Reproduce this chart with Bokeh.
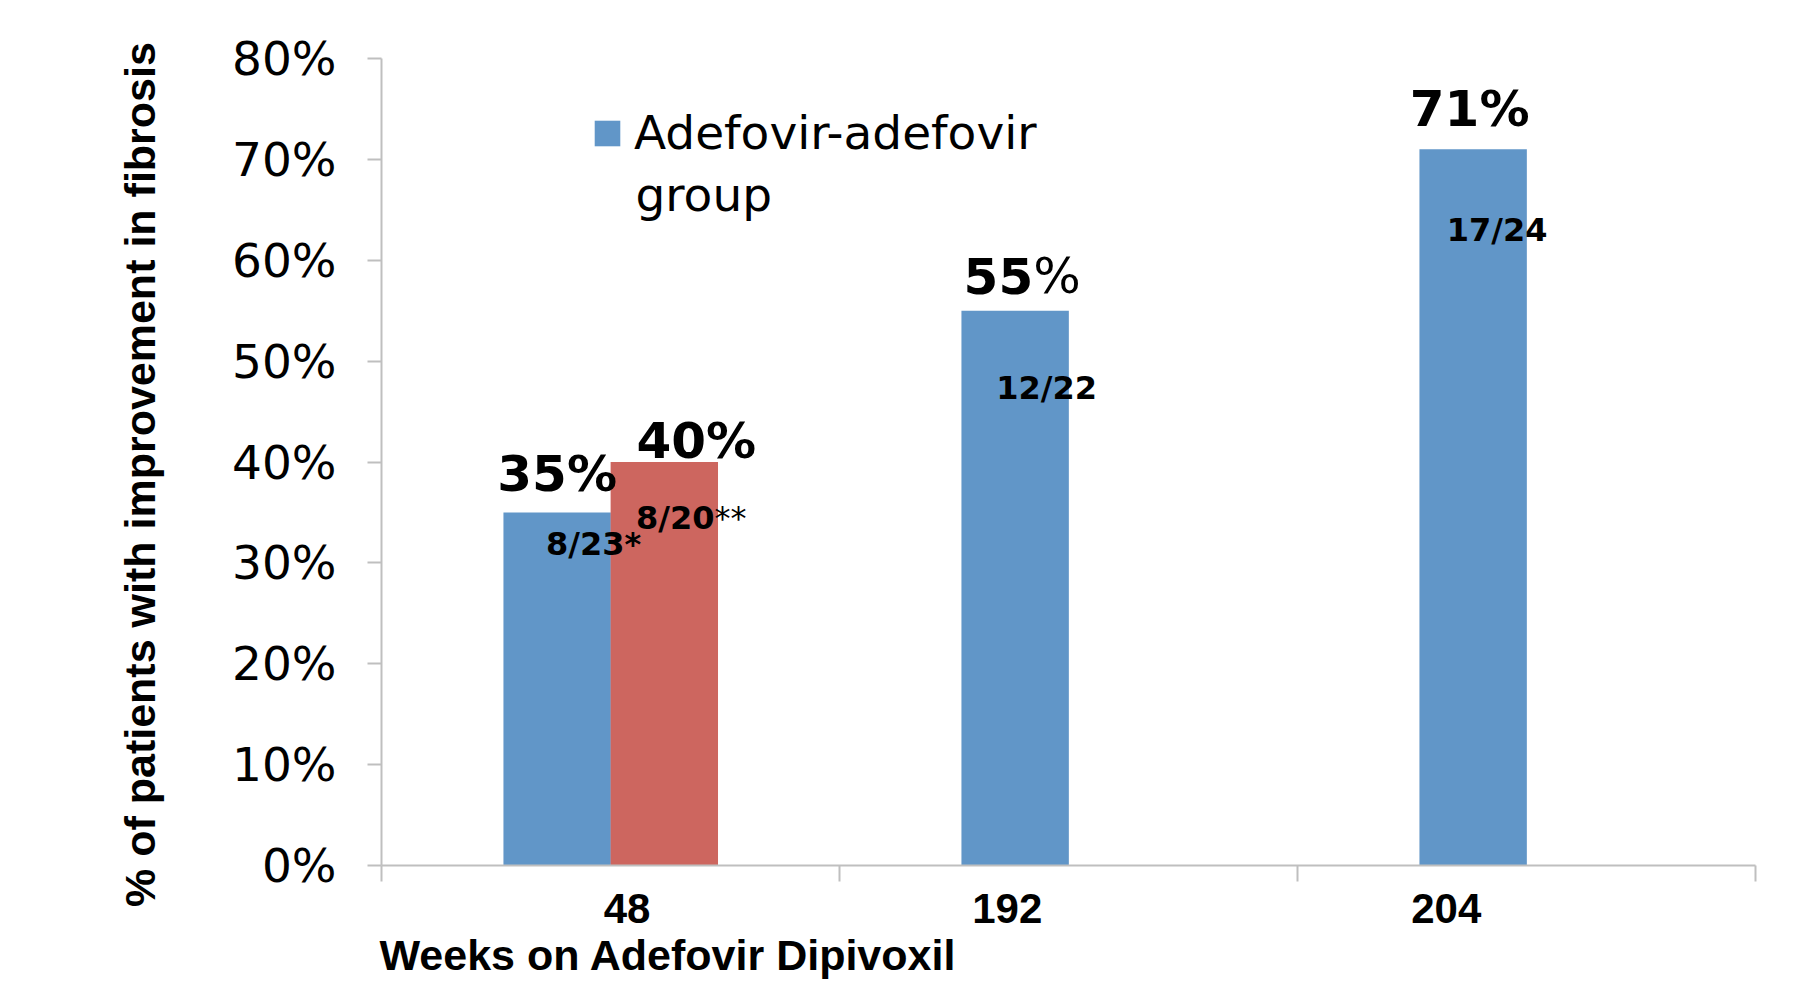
import numpy as np
from bokeh.plotting import figure
from bokeh.models import (ColumnDataSource, Range1d, FixedTicker, NumeralTickFormatter,
                          Label, Legend, LegendItem, Title)
from bokeh.core.properties import value
from bokeh.embed import file_html
from bokeh.resources import INLINE

# ---------------- data ----------------
categories = ["48", "192", "204"]                 # weeks on adefovir dipivoxil
adefovir_group = [0.35, 0.55, 0.71]               # Adefovir-adefovir group
adefovir_fractions = ["8/23*", "12/22", "17/24"]
second_group = [0.40]                             # second series, week 48 only
second_fractions = ["8/20**"]
y_ticks = [0.0, 0.1, 0.2, 0.3, 0.4, 0.5, 0.6, 0.7, 0.8]
legend_lines = ["Adefovir-adefovir", "group"]
x_title = "Weeks on Adefovir Dipivoxil"
y_title = "% of patients with  improvement in fibrosis"

# ---------------- layout / style constants ----------------
BLUE = "#6196C8"
RED = "#CD665F"
AXIS_GRAY = "#BFBFBF"
BAR_W = 0.2345
BLUE_DODGE = -0.1165
RED_DODGE = 0.1175
VAL_PX = 50
FRAC_PX = 32
TICK_FONT = "47px"
# pixel offsets of the hand-placed labels
blue_val_dx = [0, 7, -3.5]
blue_val_dy = [-38.5, -35, -40.5]
red_val_dx = [32]
red_val_dy = [-21.5]
blue_frac_dx = [36.5, 31.5, 24]
blue_frac_dy = [32, 77, 81]
red_frac_dx = [27]
red_frac_dy = [56]
# number of trailing characters that the original shows in regular weight
blue_val_regular = [0, 1, 0]
red_val_regular = [0]
blue_frac_regular = [0, 0, 0]
red_frac_regular = [2]
cat_label_dx = [0.0362, -0.1336, -0.1753]          # in category units

# approximate advance widths (em) of DejaVu Sans Bold / Book, used to join mixed-weight labels
BOLD_W = {**{d: 0.696 for d in "0123456789"}, "/": 0.365, "%": 1.002, "*": 0.523}
REG_W = {"%": 0.950, "*": 0.500}

idx = np.arange(len(categories))

p = figure(width=1810, height=986, output_backend="svg", toolbar_location=None,
           x_range=Range1d(0, len(categories)), y_range=Range1d(0, 0.8),
           min_border_left=381, min_border_right=55, min_border_top=58, min_border_bottom=120)
p.outline_line_color = None
p.grid.visible = False
p.background_fill_color = "white"
p.border_fill_color = "white"

blue_src = ColumnDataSource(dict(x=idx + 0.5 + BLUE_DODGE, top=adefovir_group))
red_src = ColumnDataSource(dict(x=idx[:len(second_group)] + 0.5 + RED_DODGE, top=second_group))
blue_r = p.vbar(x="x", top="top", bottom=0, width=BAR_W, source=blue_src,
                fill_color=BLUE, line_color=None)
red_r = p.vbar(x="x", top="top", bottom=0, width=BAR_W, source=red_src,
               fill_color=RED, line_color=None)


def add_labels(xs, tops, texts, dxs, dys, n_regular, px):
    """Bar labels; trailing n_regular characters are drawn in regular weight."""
    whole = dict(x=[], y=[], t=[], dx=[], dy=[])
    bold = dict(x=[], y=[], t=[], dx=[], dy=[])
    reg = dict(x=[], y=[], t=[], dx=[], dy=[])
    for x, y, t, dx, dy, n in zip(xs, tops, texts, dxs, dys, n_regular):
        if n == 0:
            for k, v in zip(("x", "y", "t", "dx", "dy"), (x, y, t, dx, dy)):
                whole[k].append(v)
            continue
        tb, tr = t[:-n], t[-n:]
        wb = sum(BOLD_W[c] for c in tb) * px
        wr = sum(REG_W[c] for c in tr) * px
        split = dx - (wb + wr) / 2 + wb
        for d, part in ((bold, tb), (reg, tr)):
            for k, v in zip(("x", "y", "t", "dx", "dy"), (x, y, part, split, dy)):
                d[k].append(v)
    common = dict(x="x", y="t" and "y", text="t", x_offset="dx", y_offset="dy",
                  text_font=value("DejaVu Sans"), text_font_size=f"{px}px",
                  text_baseline="alphabetic", text_color="black")
    if whole["x"]:
        p.text(source=ColumnDataSource(whole), text_font_style="bold", text_align="center", **common)
    if bold["x"]:
        p.text(source=ColumnDataSource(bold), text_font_style="bold", text_align="right", **common)
        p.text(source=ColumnDataSource(reg), text_font_style="normal", text_align="left", **common)


blue_x = list(idx + 0.5 + BLUE_DODGE)
red_x = list(idx[:len(second_group)] + 0.5 + RED_DODGE)
add_labels(blue_x, adefovir_group, [f"{round(v * 100)}%" for v in adefovir_group],
           blue_val_dx, blue_val_dy, blue_val_regular, VAL_PX)
add_labels(red_x, second_group, [f"{round(v * 100)}%" for v in second_group],
           red_val_dx, red_val_dy, red_val_regular, VAL_PX)
add_labels(blue_x, adefovir_group, adefovir_fractions,
           blue_frac_dx, blue_frac_dy, blue_frac_regular, FRAC_PX)
add_labels(red_x, second_group, second_fractions,
           red_frac_dx, red_frac_dy, red_frac_regular, FRAC_PX)

# y axis
ya = p.yaxis[0]
ya.ticker = FixedTicker(ticks=y_ticks)
ya.formatter = NumeralTickFormatter(format="0%")
ya.axis_line_color = AXIS_GRAY
ya.axis_line_width = 2
ya.major_tick_line_color = AXIS_GRAY
ya.major_tick_line_width = 2
ya.major_tick_out = 14
ya.major_tick_in = 0
ya.minor_tick_line_color = None
ya.major_label_standoff = 31
ya.major_label_text_font = "DejaVu Sans"
ya.major_label_text_font_size = TICK_FONT
ya.major_label_text_color = "black"

# x axis: visible (minor) ticks at the category boundaries,
# invisible major ticks carrying the hand-placed category labels
cat_pos = [round(float(i + 0.5 + d), 4) for i, d in zip(idx, cat_label_dx)]
xa = p.xaxis[0]
xa.ticker = FixedTicker(ticks=cat_pos, minor_ticks=list(range(len(categories) + 1)))
xa.major_label_overrides = {t: c for t, c in zip(cat_pos, categories)}
xa.axis_line_color = AXIS_GRAY
xa.axis_line_width = 2
xa.major_tick_line_color = None
xa.major_tick_out = 0
xa.major_tick_in = 0
xa.minor_tick_line_color = AXIS_GRAY
xa.minor_tick_line_width = 2
xa.minor_tick_out = 16
xa.minor_tick_in = 0
xa.major_label_standoff = 12
xa.major_label_text_font = "Liberation Sans"
xa.major_label_text_font_style = "bold"
xa.major_label_text_font_size = "42px"
xa.major_label_text_color = "black"

# axis titles
p.add_layout(Title(text=x_title, align="left", offset=-2, vertical_align="top", standoff=11,
                   text_font="Liberation Sans", text_font_style="bold",
                   text_font_size="43px", text_color="black"), "below")
p.add_layout(Title(text=y_title, align="left", offset=-41.5, vertical_align="bottom",
                   standoff=132, text_font="Liberation Sans", text_font_style="bold",
                   text_font_size="43px", text_color="black"), "left")

# legend
legend = Legend(items=[LegendItem(label=legend_lines[0], renderers=[blue_r])],
                location=(210, 705), padding=0, margin=0, border_line_color=None,
                background_fill_alpha=0, glyph_width=32, glyph_height=32, label_standoff=11,
                label_text_font="DejaVu Sans", label_text_font_size="47px",
                label_text_color="black")
p.add_layout(legend)
p.add_layout(Label(x=254, y=671.5, x_units="screen", y_units="screen", text=legend_lines[1],
                   text_align="left", text_baseline="alphabetic", text_font="DejaVu Sans",
                   text_font_size="47px", text_color="black"))

open("out.html", "w").write(file_html(p, INLINE))
